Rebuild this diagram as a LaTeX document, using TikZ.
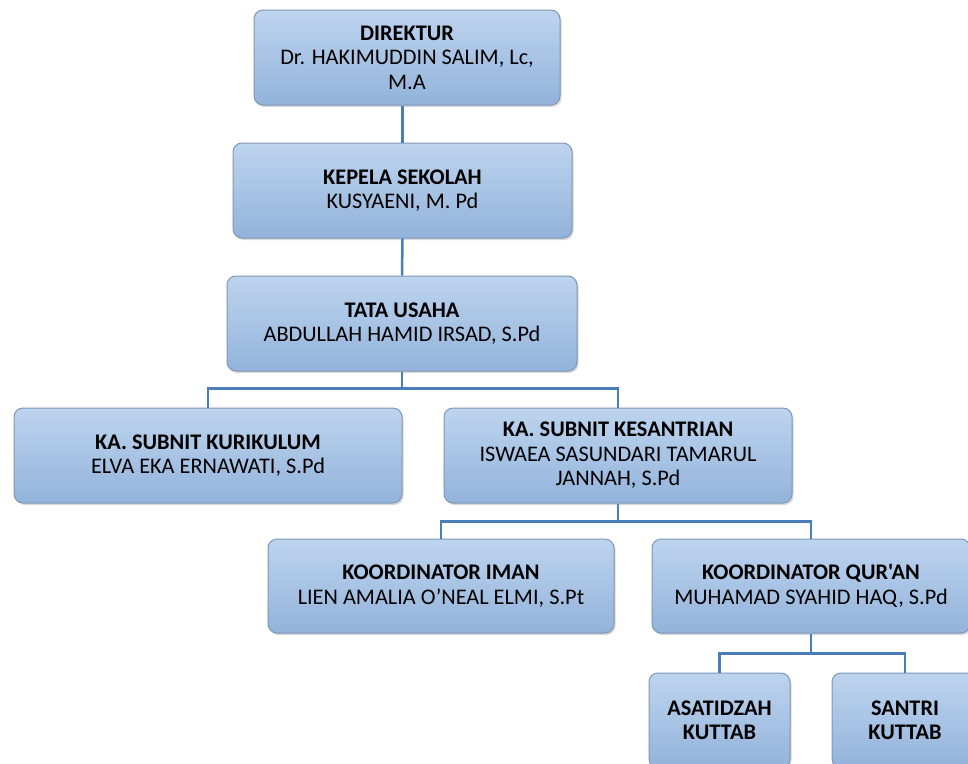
\documentclass[tikz,border=0pt]{standalone}
\usepackage{fontspec}
\setmainfont{Carlito}[Ligatures=TeXOff]
\usetikzlibrary{shadows}
\definecolor{topb}{HTML}{BDD4EE}
\definecolor{botb}{HTML}{93B3DB}
\definecolor{edgeb}{HTML}{7E97B8}
\definecolor{linkb}{HTML}{4A7EBB}
\tikzset{
  orgbox/.style={draw=edgeb, line width=1pt, rounded corners=9pt,
    top color=topb, bottom color=botb,
    drop shadow={opacity=0.3, shadow xshift=1.5pt, shadow yshift=-2pt},
    align=center, font=\fontsize{22.3}{24.5}\selectfont, inner sep=0pt},
  link/.style={draw=linkb, line width=2.5pt}
}
\begin{document}
\begin{tikzpicture}[x=1pt,y=-1pt]
\useasboundingbox (0,0) rectangle (968,763);
\clip (0,0) rectangle (968,763);
\node[orgbox, minimum width=306pt, minimum height=95pt] (dir) at (407,57.5)
  {\textbf{DIREKTUR}\\Dr. HAKIMUDDIN SALIM, Lc,\\M.A};
\node[orgbox, minimum width=339pt, minimum height=95pt] (kep) at (402.5,190.5)
  {\textbf{KEPELA SEKOLAH}\\KUSYAENI, M. Pd};
\node[orgbox, minimum width=350pt, minimum height=95pt] (tu) at (402,323.5)
  {\textbf{TATA USAHA}\\ABDULLAH HAMID IRSAD, S.Pd};
\node[orgbox, minimum width=388pt, minimum height=95pt] (kur) at (208,455.5)
  {\textbf{KA. SUBNIT KURIKULUM}\\ELVA EKA ERNAWATI, S.Pd};
\node[orgbox, minimum width=348pt, minimum height=95pt] (kes) at (618,455.5)
  {\textbf{KA. SUBNIT KESANTRIAN}\\ISWAEA SASUNDARI TAMARUL\\JANNAH, S.Pd};
\node[orgbox, minimum width=346pt, minimum height=94pt] (iman) at (441,586)
  {\textbf{KOORDINATOR IMAN}\\LIEN AMALIA O’NEAL ELMI, S.Pt};
\node[orgbox, minimum width=318pt, minimum height=94pt] (qur) at (811,586)
  {\textbf{KOORDINATOR QUR'AN}\\MUHAMAD SYAHID HAQ, S.Pd};
\node[orgbox, minimum width=141pt, minimum height=95pt] (asa) at (719.5,720.5)
  {\textbf{ASATIDZAH}\\\textbf{KUTTAB}};
\node[orgbox, minimum width=146pt, minimum height=95pt] (san) at (905,720.5)
  {\textbf{SANTRI}\\\textbf{KUTTAB}};
\draw[link] (kep.north) -- (kep.north |- dir.south);
\draw[link] (kep.south) -- (tu.north);
\draw[link] (tu.south) -- ++(0,17) -| (kur.north);
\draw[link] (tu.south) -- ++(0,17) -| (kes.north);
\draw[link] (kes.south) -- ++(0,18) -| (iman.north);
\draw[link] (kes.south) -- ++(0,18) -| (qur.north);
\draw[link] (qur.south) -- ++(0,20) -| (asa.north);
\draw[link] (qur.south) -- ++(0,20) -| (san.north);
\end{tikzpicture}
\end{document}
